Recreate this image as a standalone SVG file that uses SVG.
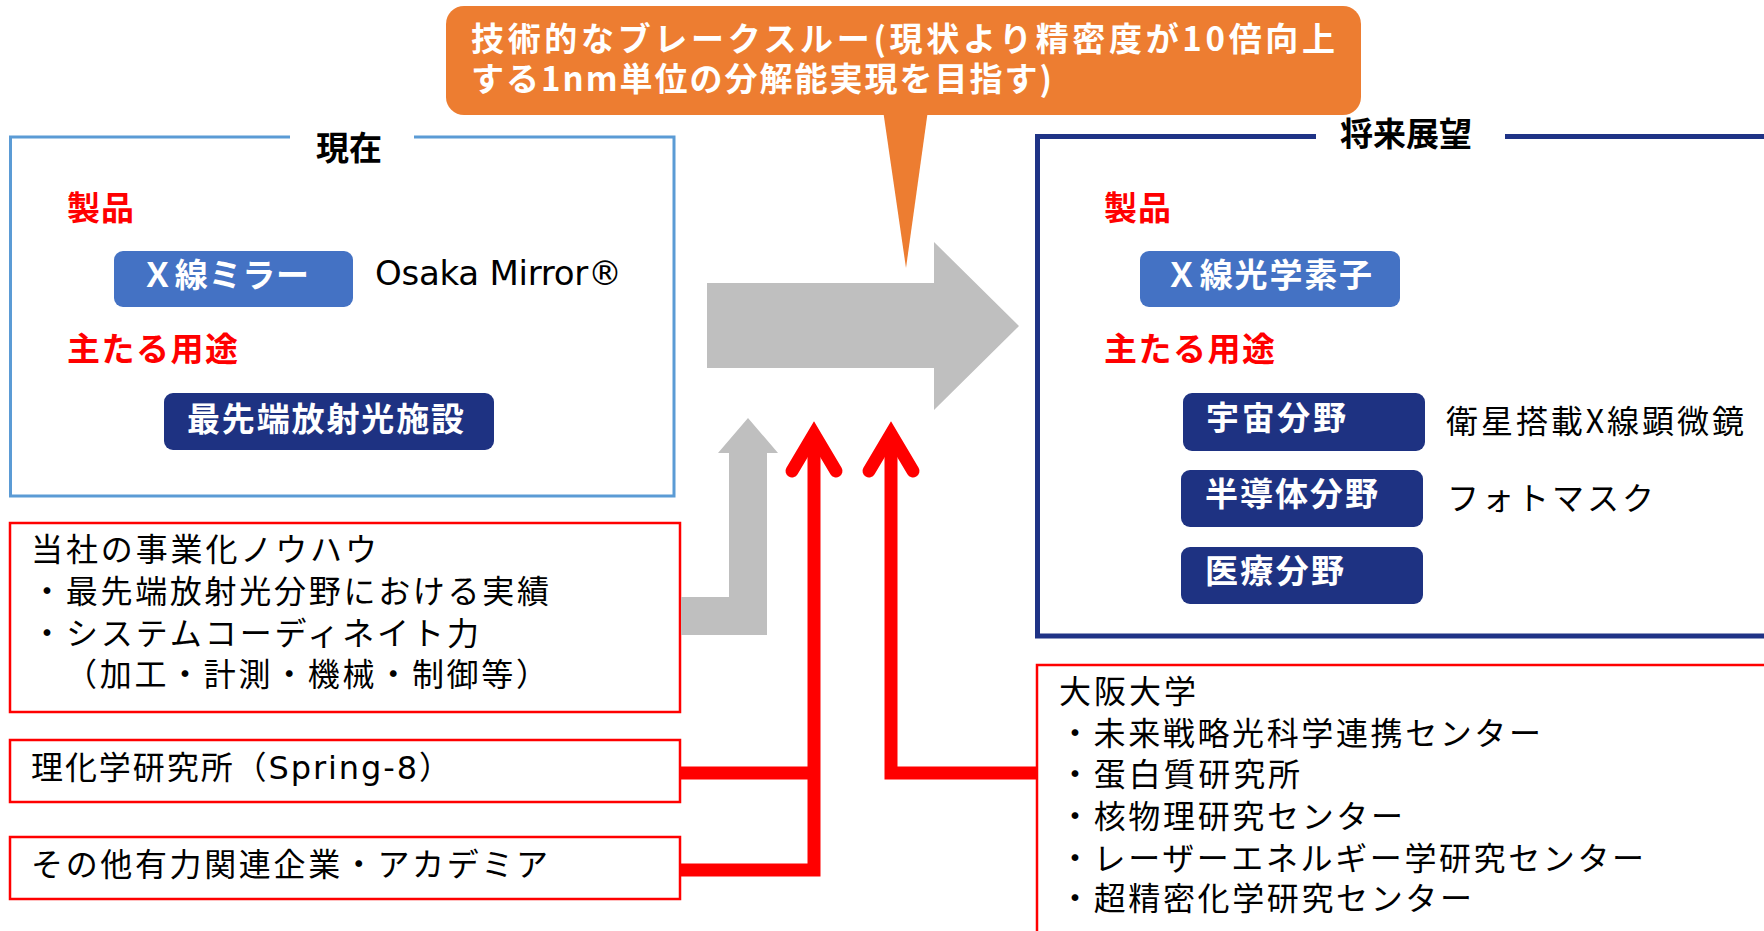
<svg xmlns="http://www.w3.org/2000/svg" width="1764" height="931" viewBox="0 0 1764 931">
<style>
text { font-family: 'Noto Sans CJK JP', sans-serif; }
.reg { font-size: 32px; fill: #000; }
.b { font-size: 33px; font-weight: 700; }
.red { fill: #FF0000; }
.wh { fill: #FFFFFF; }
.blk { fill: #000000; }
.lat { font-family: 'DejaVu Sans', sans-serif; }
.navy { fill: #1E3282; }
.blue { fill: #4472C4; }
.rbox { fill: #FFFFFF; stroke: #FF0000; stroke-width: 2.5; }
.gray { fill: #BFBFBF; }
.rl { fill: none; stroke: #FF0000; stroke-width: 13; stroke-linejoin: miter; }
</style>
<defs>
<marker id="chev" markerUnits="userSpaceOnUse" orient="auto" viewBox="-50 -50 100 100" markerWidth="100" markerHeight="100" refX="0" refY="0" overflow="visible">
<path d="M-37,-22 L0,0 L-37,22" fill="none" stroke="#FF0000" stroke-width="13" stroke-linecap="round" stroke-linejoin="miter"/>
</marker>
</defs>
<rect x="0" y="0" width="1764" height="931" fill="#FFFFFF"/>

<g id="callout">
<rect x="446" y="6" width="915" height="109" rx="18" fill="#ED7D31"/>
<polygon points="883,110 906,268 928,110" fill="#ED7D31"/>
<text x="471" y="51" textLength="864" class="b wh">技術的なブレークスルー(現状より精密度が10倍向上</text>
<text x="471" y="91" textLength="581" class="b wh">する1nm単位の分解能実現を目指す)</text>
</g>

<g id="current">
<path d="M290,137 H10.5 V496 H674 V137 H414" fill="none" stroke="#5B9BD5" stroke-width="3"/>
<text x="349" y="160" text-anchor="middle" class="b blk">現在</text>
<text x="67" y="220" textLength="67" class="b red">製品</text>
<text x="67" y="361" textLength="171" class="b red">主たる用途</text>
<text x="375" y="285" textLength="247" class="lat" font-size="34">Osaka Mirror®</text>
</g>
<g id="xray-mirror">
<rect x="114" y="251" width="239" height="56" rx="9" class="blue"/>
<text x="141" y="287" textLength="168" class="b wh">Ｘ線ミラー</text>
</g>
<g id="synchrotron">
<rect x="164" y="393" width="330" height="57" rx="9" class="navy"/>
<text x="187" y="431" textLength="277" class="b wh">最先端放射光施設</text>
</g>

<g id="future">
<path d="M1316,136.5 H1037.5 V636 H1790 M1505,136.5 H1790" fill="none" stroke="#1F3386" stroke-width="5"/>
<text x="1406" y="146" text-anchor="middle" class="b blk">将来展望</text>
<text x="1104" y="220" textLength="67" class="b red">製品</text>
<text x="1104" y="361" textLength="171" class="b red">主たる用途</text>
<text x="1446" y="433" textLength="298" class="reg">衛星搭載X線顕微鏡</text>
<text x="1447" y="510" textLength="207" class="reg">フォトマスク</text>
</g>
<g id="xray-optics">
<rect x="1140" y="251" width="260" height="56" rx="9" class="blue"/>
<text x="1165" y="287" textLength="207" class="b wh">Ｘ線光学素子</text>
</g>
<g id="space">
<rect x="1183" y="393" width="242" height="58" rx="9" class="navy"/>
<text x="1206" y="430" textLength="140" class="b wh">宇宙分野</text>
</g>
<g id="semiconductor">
<rect x="1181" y="470" width="242" height="57" rx="9" class="navy"/>
<text x="1205" y="506" textLength="173" class="b wh">半導体分野</text>
</g>
<g id="medical">
<rect x="1181" y="547" width="242" height="57" rx="9" class="navy"/>
<text x="1205" y="583" textLength="139" class="b wh">医療分野</text>
</g>

<g id="knowhow">
<rect x="10" y="523" width="670" height="189" class="rbox"/>
<text x="31" y="561" textLength="346" class="reg">当社の事業化ノウハウ</text>
<text x="31" y="603" textLength="518" class="reg">・最先端放射光分野における実績</text>
<text x="31" y="645" textLength="448" class="reg">・システムコーディネイト力</text>
<text x="65" y="686" textLength="483" class="reg">（加工・計測・機械・制御等）</text>
</g>
<g id="riken">
<rect x="10" y="740" width="670" height="62" class="rbox"/>
<text x="31" y="779" textLength="420" class="reg">理化学研究所（<tspan class="lat">Spring-8</tspan>）</text>
</g>
<g id="others">
<rect x="10" y="837" width="670" height="62" class="rbox"/>
<text x="31" y="876" textLength="517" class="reg">その他有力関連企業・アカデミア</text>
</g>
<g id="osaka-univ">
<rect x="1037" y="665" width="800" height="400" class="rbox"/>
<text x="1059" y="703" textLength="137" class="reg">大阪大学</text>
<text x="1059" y="745" textLength="482" class="reg">・未来戦略光科学連携センター</text>
<text x="1059" y="786" textLength="241" class="reg">・蛋白質研究所</text>
<text x="1059" y="828" textLength="344" class="reg">・核物理研究センター</text>
<text x="1059" y="870" textLength="585" class="reg">・レーザーエネルギー学研究センター</text>
<text x="1059" y="910" textLength="413" class="reg">・超精密化学研究センター</text>
</g>

<g id="connectors">
<polygon class="gray" points="707,283 934,283 934,242 1019,326 934,410 934,368 707,368"/>
<polygon class="gray" points="681,597 729,597 729,453 718,453 748,418 778,453 767,453 767,635 681,635"/>
<path class="rl" d="M681,870 H814 V434" marker-end="url(#chev)"/>
<path class="rl" d="M681,773 H814"/>
<path class="rl" d="M1036,773 H891 V434" marker-end="url(#chev)"/>
</g>
</svg>
